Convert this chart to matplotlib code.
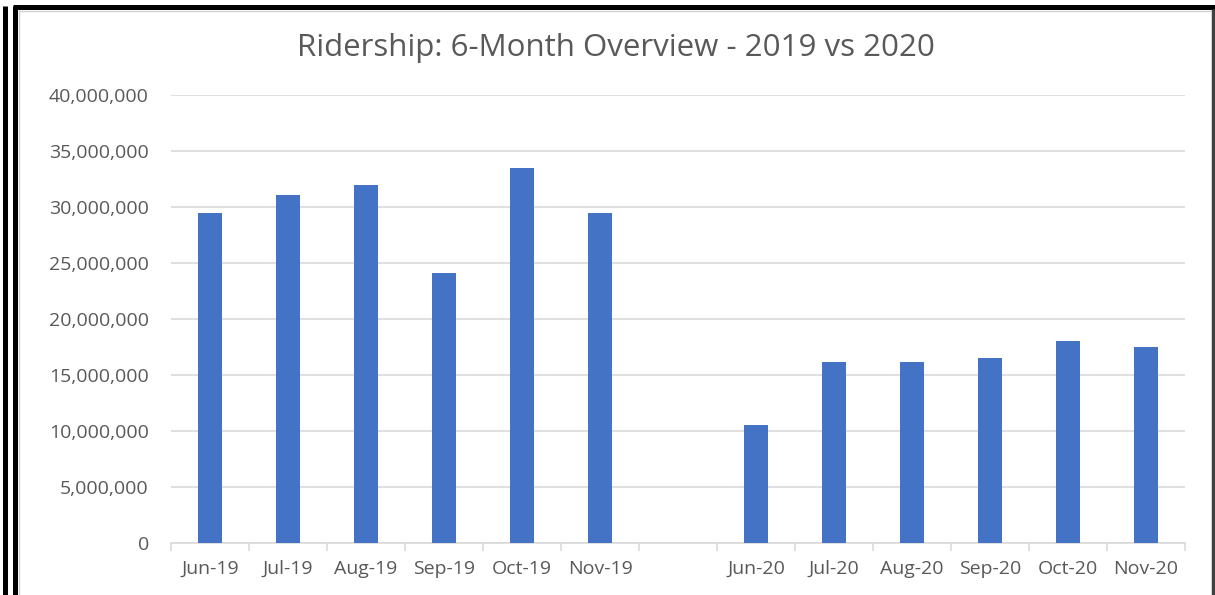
"""Ridership 6-month overview, 2019 vs 2020."""
import matplotlib
matplotlib.use("Agg")
import matplotlib.pyplot as plt
from matplotlib.lines import Line2D
from matplotlib.ticker import FuncFormatter, MultipleLocator

months = ["Jun-19", "Jul-19", "Aug-19", "Sep-19", "Oct-19", "Nov-19", "",
          "Jun-20", "Jul-20", "Aug-20", "Sep-20", "Oct-20", "Nov-20"]
riders = [29_450_000, 31_100_000, 31_950_000, 24_100_000, 33_500_000, 29_450_000, 0,
          10_570_000, 16_200_000, 16_200_000, 16_550_000, 18_040_000, 17_530_000]

W, H = 1215, 595
BAR = "#4472C4"
GREY = "#595959"
GRID = "#d9d9d9"

plt.rcParams["font.family"] = ["Open Sans", "DejaVu Sans"]

fig = plt.figure(figsize=(W / 100, H / 100), dpi=100)
ax = fig.add_axes([171 / W, 52 / H, (1185 - 171) / W, (543 - 95) / H])

x = list(range(len(months)))
ax.bar(x, riders, width=0.32, color=BAR, zorder=3)

ax.set_xlim(-0.5, len(months) - 0.5)
ax.set_ylim(0, 40_000_000)
ax.yaxis.set_major_locator(MultipleLocator(5_000_000))
ax.yaxis.set_major_formatter(FuncFormatter(lambda v, _: f"{v:,.0f}"))
ax.grid(axis="y", color=GRID, linewidth=1.2, zorder=0)

ax.set_xticks(x)
ax.set_xticklabels(months)
ax.set_xticks([i - 0.5 for i in range(len(months) + 1)], minor=True)
ax.tick_params(axis="x", which="major", length=0, pad=12, labelsize=14, labelcolor=GREY)
ax.tick_params(axis="x", which="minor", length=6, color=GRID, width=1.2)
ax.tick_params(axis="y", length=0, pad=16, labelsize=14, labelcolor=GREY)

for s in ("top", "right", "left"):
    ax.spines[s].set_visible(False)
ax.spines["bottom"].set_color(GRID)
ax.spines["bottom"].set_linewidth(1.2)

fig.text(616 / W, 1 - 48 / H, "Ridership: 6-Month Overview - 2019 vs 2020",
         ha="center", va="center", fontsize=22.5, color=GREY)

# frame around the picture (pixel coords -> figure fraction)
def line(xs, ys, lw, color):
    fig.add_artist(Line2D([v / W for v in xs], [1 - v / H for v in ys],
                          transform=fig.transFigure, linewidth=lw, color=color,
                          solid_capstyle="butt"))

line([4.5, 4.5], [6, H], 3.6, "black")
line([14.5, 14.5], [6, H], 3.6, "black")
line([13, W], [7, 7], 3.6, "black")
line([W - 2, W - 2], [9, H], 2.5, "#404040")
line([19, 19], [10, H], 1.0, "#d0d0d0")
line([19, W - 4], [10.5, 10.5], 1.0, "#d0d0d0")

fig.savefig("out.png", dpi=100)
